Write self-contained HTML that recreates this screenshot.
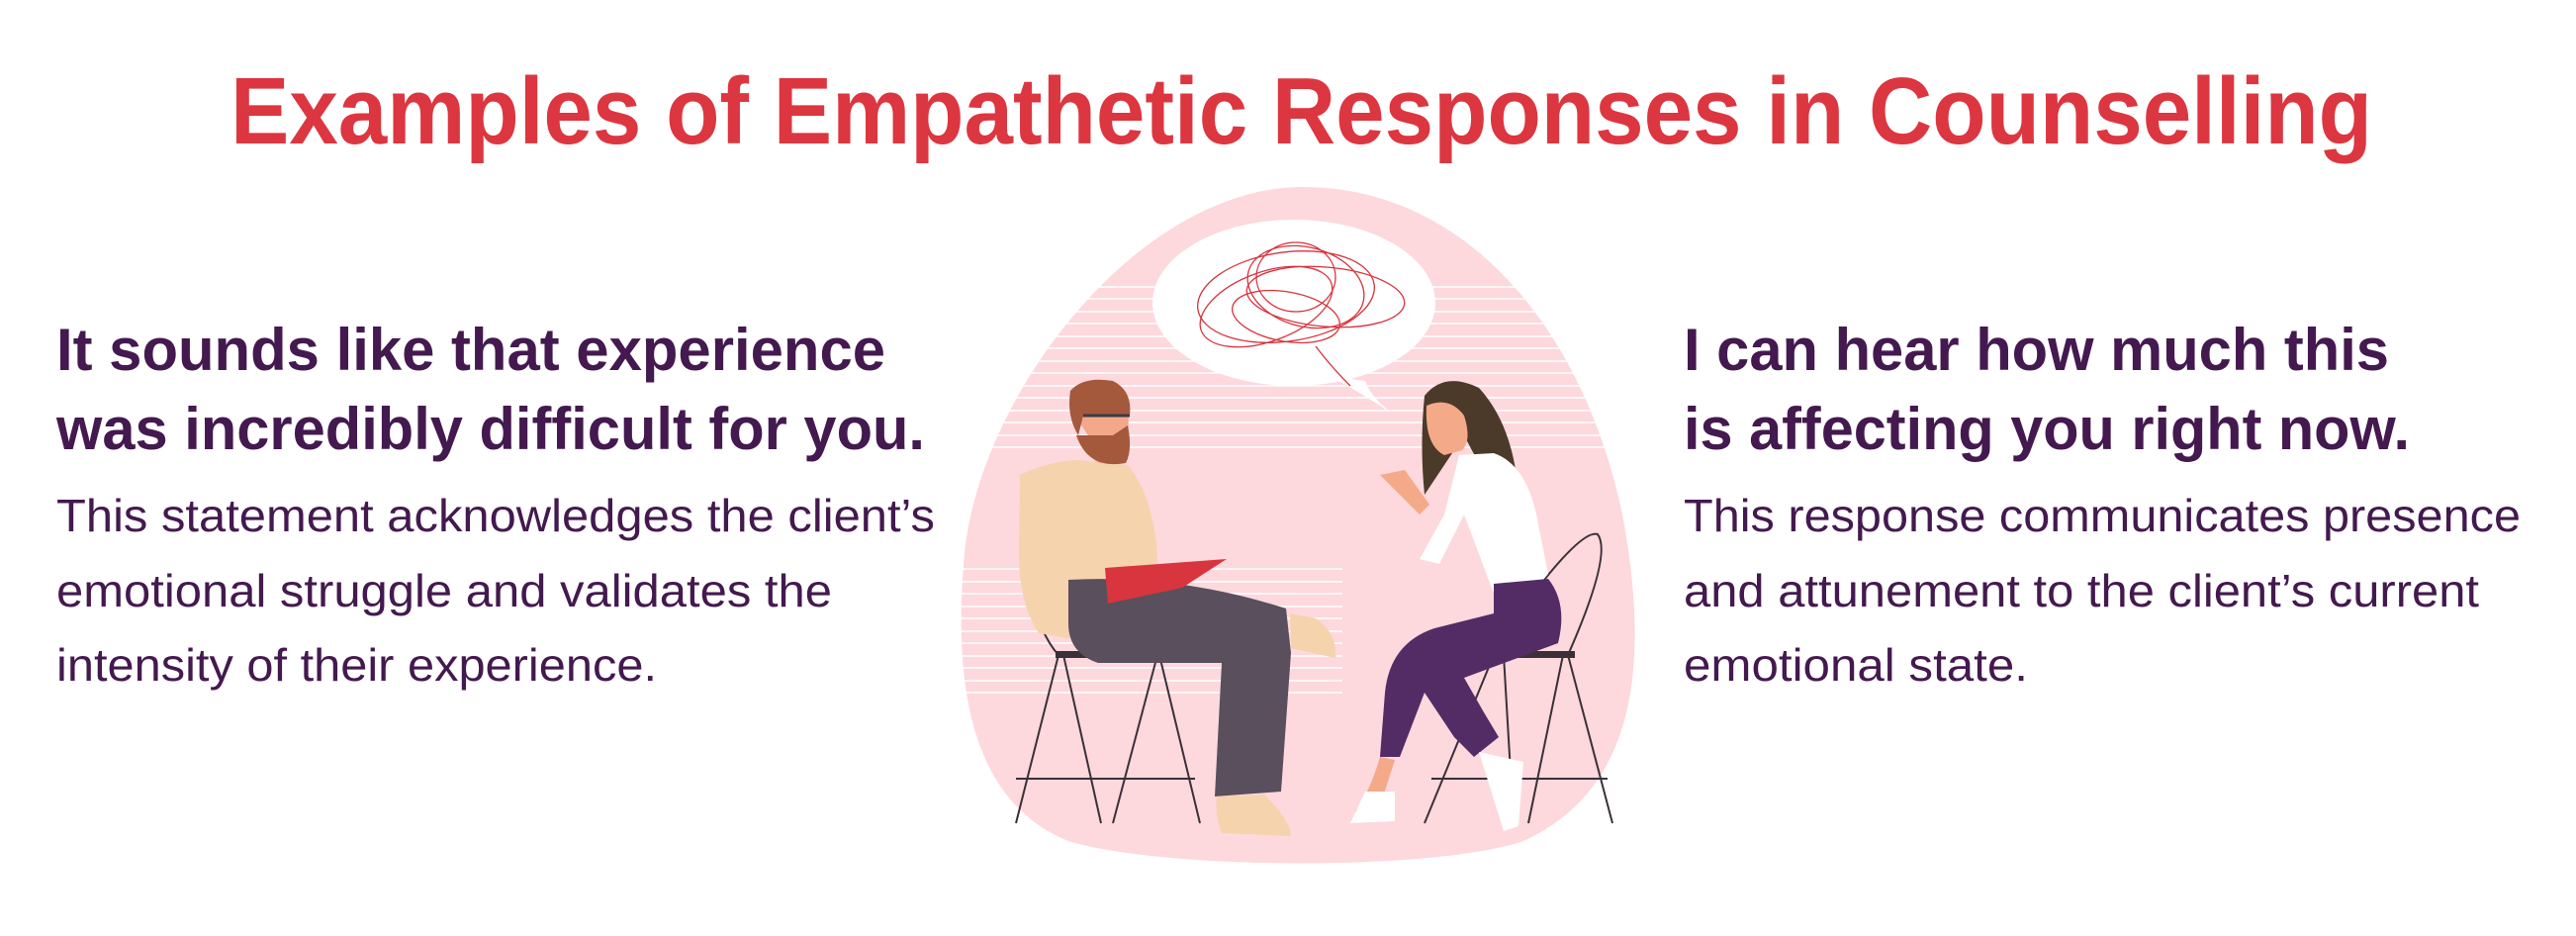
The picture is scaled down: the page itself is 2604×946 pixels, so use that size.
<!DOCTYPE html>
<html><head><meta charset="utf-8"><style>
html,body{margin:0;padding:0;background:#fff;}
svg{display:block;}
text{font-family:"Liberation Sans",Arial,sans-serif;}
</style></head><body>
<svg width="2604" height="946" viewBox="0 0 2604 946" xmlns="http://www.w3.org/2000/svg">
<rect width="2604" height="946" fill="#fff"/>
<text x="233" y="145" font-size="96" font-weight="bold" fill="#dc3640" textLength="2165" lengthAdjust="spacingAndGlyphs">Examples of Empathetic Responses in Counselling</text>

<g fill="#44194f">
<text x="57" y="374" font-size="60" font-weight="bold" textLength="838" lengthAdjust="spacingAndGlyphs">It sounds like that experience</text>
<text x="57" y="454" font-size="60" font-weight="bold" textLength="878" lengthAdjust="spacingAndGlyphs">was incredibly difficult for you.</text>
<text x="57" y="537" font-size="46" textLength="888" lengthAdjust="spacingAndGlyphs">This statement acknowledges the client’s</text>
<text x="57" y="613" font-size="46" textLength="784" lengthAdjust="spacingAndGlyphs">emotional struggle and validates the</text>
<text x="57" y="688" font-size="46" textLength="607" lengthAdjust="spacingAndGlyphs">intensity of their experience.</text>

<text x="1702" y="374" font-size="60" font-weight="bold" textLength="713" lengthAdjust="spacingAndGlyphs">I can hear how much this</text>
<text x="1702" y="454" font-size="60" font-weight="bold" textLength="734" lengthAdjust="spacingAndGlyphs">is affecting you right now.</text>
<text x="1702" y="537" font-size="46" textLength="846" lengthAdjust="spacingAndGlyphs">This response communicates presence</text>
<text x="1702" y="613" font-size="46" textLength="804" lengthAdjust="spacingAndGlyphs">and attunement to the client’s current</text>
<text x="1702" y="688" font-size="46" textLength="348" lengthAdjust="spacingAndGlyphs">emotional state.</text>
</g>

<defs>
<clipPath id="bc"><path d="M1317,189 C1480,189 1600,330 1640,520 C1670,680 1650,800 1540,850 C1450,880 1180,880 1080,850 C985,812 962,700 975,560 C990,400 1150,189 1317,189 Z"/></clipPath>
</defs>
<path d="M1317,189 C1480,189 1600,330 1640,520 C1670,680 1650,800 1540,850 C1450,880 1180,880 1080,850 C985,812 962,700 975,560 C990,400 1150,189 1317,189 Z" fill="#fdd8dd"/>
<g clip-path="url(#bc)" stroke="#fff" stroke-width="1.6">
<path d="M960,290H1660M960,302H1660M960,315H1660M960,327H1660M960,340H1660M960,352H1660M960,365H1660M960,377H1660M960,390H1660M960,402H1660M960,415H1660M960,427H1660M960,440H1660M960,452H1660"/>
<path d="M960,575H1357M960,588H1357M960,600H1357M960,613H1357M960,625H1357M960,638H1357M960,650H1357M960,663H1357M960,675H1357M960,688H1357M960,700H1357"/>
</g>
<ellipse cx="1308" cy="306" rx="143" ry="84" fill="#fff"/>
<path d="M1345,380 Q1380,400 1406,417 Q1385,400 1380,385 Z" fill="#fff"/>
<g fill="none" stroke="#d8333d" stroke-width="1.3">
<ellipse cx="1300" cy="300" rx="90" ry="45" transform="rotate(-8 1300 300)"/>
<ellipse cx="1320" cy="290" rx="60" ry="40" transform="rotate(15 1320 290)"/>
<ellipse cx="1280" cy="310" rx="70" ry="35" transform="rotate(-20 1280 310)"/>
<ellipse cx="1340" cy="300" rx="80" ry="30" transform="rotate(5 1340 300)"/>
<ellipse cx="1310" cy="280" rx="40" ry="35"/>
<ellipse cx="1300" cy="320" rx="55" ry="25" transform="rotate(10 1300 320)"/>
<path d="M1330,350 Q1345,370 1365,390"/>
</g>
<g stroke="#3a3038" stroke-width="2" fill="none">
<path d="M1067,662H1175M1027,787H1208M1070,662L1027,832M1075,662L1113,832M1170,662L1125,832M1172,662L1213,832M1040,590Q1050,640 1070,662"/>
</g>
<rect x="1067" y="658" width="110" height="7" fill="#3a3038"/>
<path d="M1031,480 Q1070,462 1100,466 L1140,470 Q1165,500 1170,560 L1168,620 L1080,645 L1050,640 Q1030,610 1030,560 Z" fill="#f5d3ad"/>
<path d="M1080,586 Q1190,580 1300,615 L1305,660 L1295,800 L1228,805 L1235,670 L1110,670 Q1080,660 1080,630 Z" fill="#5a4f5c"/>
<path d="M1117,574 L1240,565 L1195,594 L1120,610 Z" fill="#d8353e"/>
<path d="M1230,805 L1278,803 Q1305,830 1305,845 L1235,842 Q1228,825 1230,805 Z" fill="#f5d3ad"/>
<path d="M1304,620 L1330,625 Q1352,640 1350,665 L1305,655 Z" fill="#f5d3ad"/>
<path d="M1100,440 Q1100,466 1112,468 Q1135,470 1140,450 L1141,415 L1085,418 Z" fill="#f2a889"/>
<path d="M1088,440 Q1100,475 1138,468 Q1145,455 1140,430 L1125,440 Z" fill="#a4583c"/>
<path d="M1082,395 Q1095,380 1125,385 Q1145,395 1142,420 L1095,420 L1090,440 Q1078,420 1082,395 Z" fill="#a4583c"/>
<path d="M1095,420 H1142" stroke="#3a3a4a" stroke-width="3"/>
<g stroke="#3a3038" stroke-width="2" fill="none">
<path d="M1500,662H1590M1447,787H1625M1510,662L1440,832M1520,662L1530,832M1580,662L1545,832M1585,662L1630,832M1585,662Q1630,560 1615,540 Q1600,535 1550,600"/>
</g>
<rect x="1500" y="658" width="92" height="7" fill="#3a3038"/>
<path d="M1440,400 Q1460,375 1495,392 Q1530,430 1535,500 L1515,500 Q1495,470 1480,440 L1440,500 Q1435,450 1440,400 Z" fill="#4b3a2a"/>
<path d="M1442,410 Q1465,400 1480,420 Q1488,445 1478,455 L1460,460 Q1440,450 1442,410 Z" fill="#f4a989"/>
<path d="M1475,460 L1510,458 Q1545,470 1555,530 L1565,580 L1548,600 L1510,600 L1480,520 L1455,570 L1435,565 L1460,520 Z" fill="#fff"/>
<path d="M1395,480 L1420,475 L1445,510 L1435,520 Z" fill="#f4a989"/>
<path d="M1510,590 L1565,585 Q1585,610 1575,650 L1480,685 L1500,720 L1515,745 L1490,765 L1470,745 L1440,700 L1415,765 L1395,765 L1400,700 Q1405,650 1450,635 L1510,620 Z" fill="#532c66"/>
<path d="M1395,765 L1410,768 L1395,815 L1370,820 Q1385,800 1395,765 Z" fill="#f4a989"/>
<path d="M1380,800 L1410,800 L1410,830 L1365,832 Z" fill="#fff"/>
<path d="M1495,760 L1540,770 L1535,835 L1520,840 Z" fill="#fff"/>
</svg>
</body></html>
